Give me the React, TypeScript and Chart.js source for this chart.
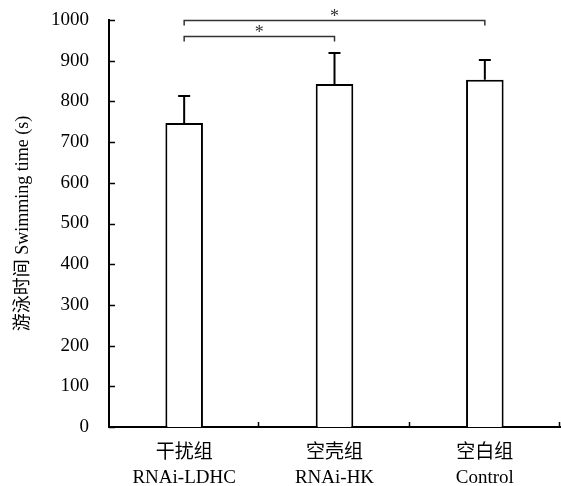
import React, { useEffect, useRef } from 'react';
import { Chart, registerables } from 'chart.js';
Chart.register(...registerables);

const FONT = "'Liberation Serif', 'Noto Sans CJK SC', serif";

const categories: string[][] = [
  ['干扰组', 'RNAi-LDHC'],
  ['空壳组', 'RNAi-HK'],
  ['空白组', 'Control'],
];
const means: number[] = [747, 843, 853];
const errors: number[] = [66, 76, 49];
const yMax = 1000;
const yStep = 100;
const yTitle = '游泳时间 Swimming time (s)';
const bracketFrom: number[] = [0, 0];
const bracketTo: number[] = [2, 1];
const bracketLevel: number[] = [1000, 961];
const bracketLabel: string[] = ['*', '*'];

export default function App() {
  const ref = useRef<HTMLCanvasElement>(null);
  useEffect(() => {
    document.body.style.margin = '0';
    const extras = {
      id: 'extras',
      afterDatasetsDraw(chart: any) {
        const ctx = chart.ctx;
        const xs = chart.scales.x;
        const ys = chart.scales.y;
        const meta = chart.getDatasetMeta(0);
        const area = chart.chartArea;
        ctx.save();
        ctx.strokeStyle = '#000';
        ctx.lineWidth = 2;
        // error bars
        meta.data.forEach((bar: any, i: number) => {
          const top = ys.getPixelForValue(means[i]);
          const cap = ys.getPixelForValue(means[i] + errors[i]);
          ctx.beginPath();
          ctx.moveTo(bar.x, top);
          ctx.lineTo(bar.x, cap);
          ctx.moveTo(bar.x - 6, cap);
          ctx.lineTo(bar.x + 6, cap);
          ctx.stroke();
        });
        // y ticks (inward)
        ctx.lineWidth = 1.5;
        for (let v = 0; v <= yMax; v += yStep) {
          const py = Math.round(ys.getPixelForValue(v)) + 0.5;
          ctx.beginPath();
          ctx.moveTo(area.left, py);
          ctx.lineTo(area.left + 6, py);
          ctx.stroke();
        }
        // x separator ticks (inward)
        for (let i = 0; i < categories.length; i++) {
          const px = Math.round(xs.getPixelForValue(i + 0.5)) - 0.5;
          ctx.beginPath();
          ctx.moveTo(px, area.bottom);
          ctx.lineTo(px, area.bottom - 5);
          ctx.stroke();
        }
        // significance brackets
        ctx.strokeStyle = '#333';
        ctx.fillStyle = '#333';
        ctx.lineWidth = 1.5;
        ctx.font = `18px ${FONT}`;
        ctx.textAlign = 'center';
        ctx.textBaseline = 'alphabetic';
        for (let b = 0; b < bracketFrom.length; b++) {
          const x1 = meta.data[bracketFrom[b]].x;
          const x2 = meta.data[bracketTo[b]].x;
          const py = Math.round(ys.getPixelForValue(bracketLevel[b])) + 0.5;
          ctx.beginPath();
          ctx.moveTo(x1, py + 5);
          ctx.lineTo(x1, py);
          ctx.lineTo(x2, py);
          ctx.lineTo(x2, py + 5);
          ctx.stroke();
          ctx.fillText(bracketLabel[b], (x1 + x2) / 2, py + 1);
        }
        ctx.restore();
      },
    };
    const chart = new Chart(ref.current as HTMLCanvasElement, {
      type: 'bar',
      data: {
        labels: categories,
        datasets: [
          {
            data: means,
            backgroundColor: '#fff',
            borderColor: '#000',
            borderWidth: 2,
            borderSkipped: 'start',
            categoryPercentage: 1,
            barPercentage: 0.25,
          },
        ],
      },
      options: {
        responsive: false,
        animation: false,
        devicePixelRatio: 1,
        layout: { padding: { top: 20, right: 1, left: 0, bottom: 0 } },
        plugins: { legend: { display: false }, tooltip: { enabled: false } },
        scales: {
          x: {
            grid: { display: false, drawTicks: false },
            border: { display: true, color: '#000', width: 2 },
            ticks: {
              color: '#000',
              font: { family: FONT, size: 19, lineHeight: 1.3 },
              padding: 14,
              maxRotation: 0,
              autoSkip: false,
            },
            afterFit: (s: any) => {
              s.height = 59;
              s.paddingLeft = 0;
              s.paddingRight = 0;
            },
          },
          y: {
            min: 0,
            max: yMax,
            grid: { display: false, drawTicks: false },
            border: { display: true, color: '#000', width: 2 },
            ticks: {
              stepSize: yStep,
              color: '#000',
              font: { family: FONT, size: 19 },
              padding: 20,
              callback: (v: any) => String(v),
            },
            title: {
              display: true,
              text: yTitle,
              color: '#000',
              font: { family: FONT, size: 18 },
              padding: { top: 12, bottom: 0 },
            },
            afterFit: (s: any) => {
              s.width = 109;
              s.paddingTop = 0;
              s.paddingBottom = 0;
            },
          },
        },
      },
      plugins: [extras],
    } as any);
    return () => chart.destroy();
  }, []);
  return (
    <div style={{ width: 561, height: 486 }}>
      <canvas ref={ref} width={561} height={486} style={{ display: 'block' }} />
    </div>
  );
}
